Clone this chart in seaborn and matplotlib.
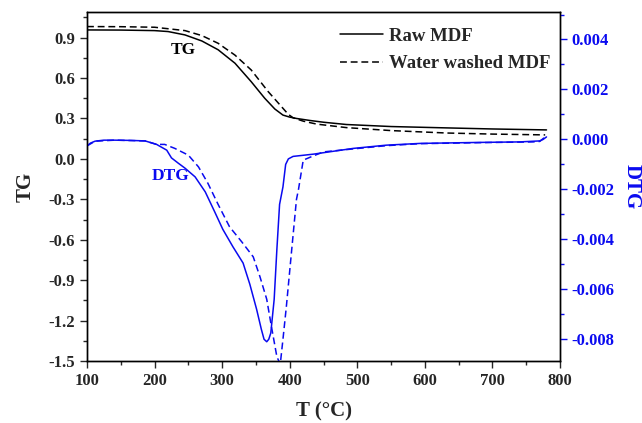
import numpy as np
import pandas as pd
import matplotlib
matplotlib.use("Agg")
import matplotlib.pyplot as plt
from matplotlib.ticker import MultipleLocator, FormatStrFormatter
import seaborn as sns

# ---------------- data ----------------
tg_raw_T = [100, 150, 200, 220, 245, 270, 294, 319, 343, 363, 378, 390, 400, 410, 430, 450, 484, 550, 632, 700, 780]
tg_raw = [0.957, 0.956, 0.952, 0.945, 0.92, 0.875, 0.81, 0.71, 0.573, 0.45, 0.37, 0.325, 0.31, 0.30, 0.285, 0.272, 0.255, 0.24, 0.23, 0.222, 0.215]

tg_wash_T = [100, 150, 200, 245, 270, 294, 319, 343, 368, 383, 398, 405, 420, 440, 484, 550, 632, 700, 778]
tg_wash = [0.982, 0.981, 0.977, 0.952, 0.915, 0.858, 0.77, 0.66, 0.50, 0.415, 0.33, 0.305, 0.28, 0.258, 0.232, 0.21, 0.192, 0.184, 0.178]

dtg_raw_T = [100, 105, 112, 125, 141, 165, 186, 203, 218, 225, 235, 245, 260, 275, 289, 301, 316, 331, 341,
             351, 358, 362, 366, 369, 372, 377, 381, 385, 390, 394, 398, 405, 435, 494, 543, 593, 681, 740, 770, 775, 780]
dtg_raw = [-0.00026, -0.00015, -0.00007, -0.00003, -0.00003, -0.00004, -0.00006, -0.0002, -0.00043, -0.00074,
           -0.00095, -0.00115, -0.0015, -0.0021, -0.0029, -0.0036, -0.0043, -0.00495, -0.0058,
           -0.0068, -0.0076, -0.0080, -0.0081, -0.0080, -0.00775, -0.0064, -0.0044, -0.0026, -0.0019, -0.0010,
           -0.00078, -0.00068, -0.00059, -0.00036, -0.00023, -0.00016, -0.00012, -0.0001, -0.00006, 0.0, 0.0001]

dtg_wash_T = [100, 112, 141, 186, 203, 215, 230, 250, 265, 279, 294, 311, 329, 346, 356, 366, 373, 381, 386,
              390, 395, 403, 410, 413, 420, 434, 450, 494, 543, 593, 681, 760, 770, 778]
dtg_wash = [-0.00026, -0.00007, -0.00003, -0.00006, -0.0002, -0.0002, -0.00036, -0.00063, -0.0011, -0.00176,
            -0.0026, -0.0035, -0.0041, -0.0047, -0.0055, -0.0064, -0.0075, -0.0087, -0.0090,
            -0.0080, -0.0067, -0.0044, -0.0024, -0.0020, -0.00083, -0.00067, -0.0005, -0.00038, -0.00025,
            -0.00017, -0.00013, -0.0001, -0.00008, 0.0001]

series_labels = ["Raw MDF", "Water washed MDF"]
x_ticks = [100, 200, 300, 400, 500, 600, 700, 800]
tg_ticks = [-1.5, -1.2, -0.9, -0.6, -0.3, 0.0, 0.3, 0.6, 0.9]
dtg_ticks = [-0.008, -0.006, -0.004, -0.002, 0.000, 0.002, 0.004]

# ---------------- style ----------------
sns.set_style("ticks")
plt.rcParams['font.family'] = ['Liberation Serif', 'DejaVu Serif']
plt.rcParams['font.weight'] = 'bold'
plt.rcParams['axes.labelweight'] = 'bold'

fig = plt.figure(figsize=(6.42, 4.23), dpi=100)
ax = fig.add_axes([0.1355, 0.1466, 0.7368, 0.825])
ax2 = ax.twinx()

blue = "#0a0af0"
dash = (4.5, 2.5)

df_r = pd.DataFrame({"T": tg_raw_T, "v": tg_raw})
df_w = pd.DataFrame({"T": tg_wash_T, "v": tg_wash})
sns.lineplot(data=df_r, x="T", y="v", ax=ax, color="black", lw=1.1, label=series_labels[0], sort=False)
sns.lineplot(data=df_w, x="T", y="v", ax=ax, color="black", lw=1.1, label=series_labels[1], sort=False)
ax.lines[1].set_dashes(dash)

dr = pd.DataFrame({"T": dtg_raw_T, "v": dtg_raw})
dw = pd.DataFrame({"T": dtg_wash_T, "v": dtg_wash})
sns.lineplot(data=dr, x="T", y="v", ax=ax2, color=blue, lw=1.1, sort=False, legend=False)
sns.lineplot(data=dw, x="T", y="v", ax=ax2, color=blue, lw=1.1, sort=False, legend=False)
ax2.lines[1].set_dashes(dash)

ax.set_xlim(100, 800)
ax.set_ylim(-1.5, 1.09)
ax2.set_ylim(-0.00887, 0.0051)

ax.set_xticks(x_ticks)
ax.xaxis.set_minor_locator(MultipleLocator(50))
ax.set_yticks(tg_ticks)
ax.yaxis.set_minor_locator(MultipleLocator(0.15))
ax.yaxis.set_major_formatter(FormatStrFormatter('%.1f'))
ax2.set_yticks(dtg_ticks)
ax2.yaxis.set_minor_locator(MultipleLocator(0.001))
ax2.yaxis.set_major_formatter(FormatStrFormatter('%.3f'))

for a in (ax, ax2):
    for s in a.spines.values():
        s.set_visible(True)
        s.set_color("black")
        s.set_linewidth(1.0)

ax.tick_params(axis='both', which='major', direction='out', length=5, width=1, labelsize=12)
ax.tick_params(axis='both', which='minor', direction='out', length=3, width=1)
ax2.tick_params(axis='y', which='major', direction='out', length=5, width=1, colors=blue, labelsize=12)
ax2.tick_params(axis='y', which='minor', direction='out', length=3, width=1, colors=blue)
ax2.spines['right'].set_color('black')
for lab in ax.get_xticklabels() + ax.get_yticklabels() + ax2.get_yticklabels():
    lab.set_fontweight('bold')

ax.set_xlabel("T (°C)", fontsize=15, fontweight='bold', labelpad=9)
ax.set_ylabel("TG", fontsize=15, fontweight='bold', labelpad=9)
ax2.set_ylabel("DTG", fontsize=15, fontweight='bold', color=blue, rotation=270, va='bottom', labelpad=5)

ax.text(243, 0.81, "TG", fontsize=12.5, fontweight='bold', color='black', ha='center', va='center')
ax.text(224, -0.13, "DTG", fontsize=12.5, fontweight='bold', color=blue, ha='center', va='center')

leg = ax.legend(loc='upper left', bbox_to_anchor=(0.519, 0.977), borderaxespad=0, frameon=False, fontsize=13.5,
                handlelength=2.3, labelspacing=0.55, handletextpad=0.3)
for t in leg.get_texts():
    t.set_fontweight('bold')
leg.get_lines()[1].set_dashes(dash)

fig.savefig("out.png", dpi=100)
